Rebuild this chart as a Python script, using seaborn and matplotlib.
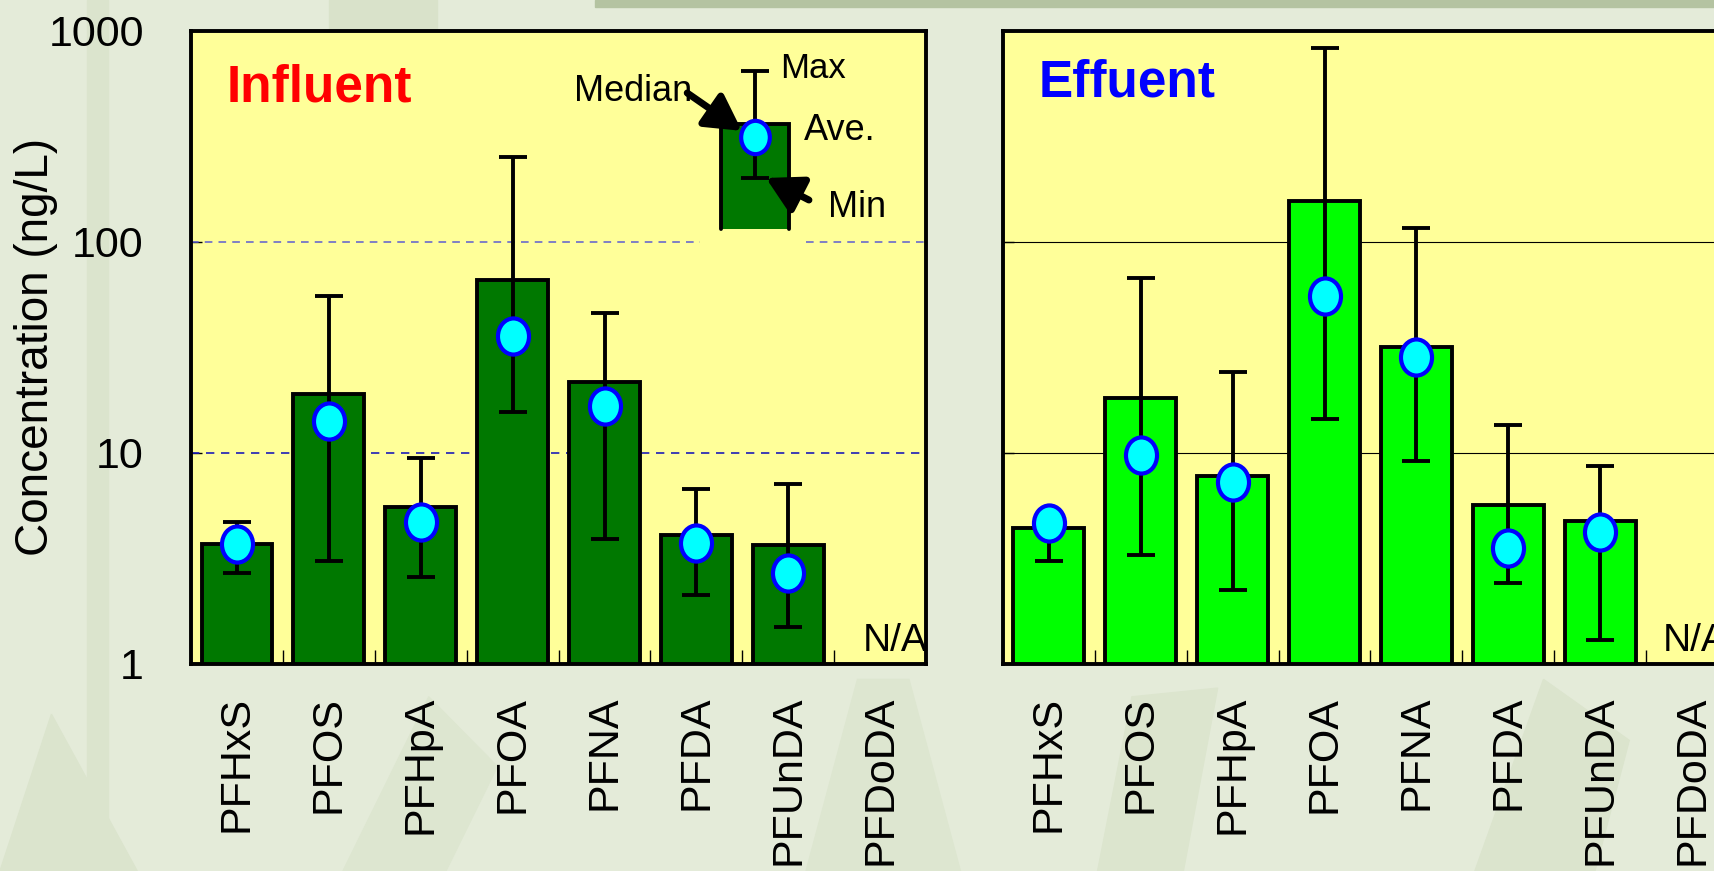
import numpy as np
import pandas as pd
import matplotlib
matplotlib.use("Agg")
import matplotlib.pyplot as plt
from matplotlib.path import Path
from matplotlib.transforms import Affine2D, blended_transform_factory
from matplotlib.patches import Rectangle, Polygon
from matplotlib.ticker import FixedLocator, FixedFormatter, NullLocator
import seaborn as sns

# ---- data (ng/L) ----
compounds = ["PFHxS", "PFOS", "PFHpA", "PFOA", "PFNA", "PFDA", "PFUnDA", "PFDoDA"]

influent_ave = [3.72, 19.0, 5.57, 65.9, 21.7, 4.09, 3.67, np.nan]
influent_median = [3.70, 14.1, 4.72, 35.8, 16.7, 3.76, 2.69, np.nan]
influent_max = [4.72, 55.7, 9.42, 253.0, 46.0, 6.75, 7.16, np.nan]
influent_min = [2.69, 3.07, 2.57, 15.7, 3.90, 2.12, 1.50, np.nan]

effluent_ave = [4.39, 18.2, 7.78, 157.0, 31.8, 5.64, 4.77, np.nan]
effluent_median = [4.66, 9.77, 7.25, 55.7, 28.6, 3.54, 4.24, np.nan]
effluent_max = [5.0, 67.5, 24.2, 826.0, 117.0, 13.5, 8.67, np.nan]
effluent_min = [3.07, 3.30, 2.25, 14.5, 9.2, 2.42, 1.30, np.nan]

# explanatory key drawn inside the influent panel
key_ave, key_median, key_max, key_min, key_base = 363.0, 314.0, 643.0, 200.0, 115.0

y_ticks = [1, 10, 100, 1000]
y_tick_labels = ["1", "10", "100", "1000"]

# ---- style ----
sns.set_theme(style="ticks")
REGULAR = ["Liberation Sans", "Arial", "DejaVu Sans"]
plt.rcParams["font.family"] = REGULAR

PANEL_BG = "#ffff99"
FIG_BG = "#e4ebd9"
DARK_GREEN = "#007800"
BRIGHT_GREEN = "#00ff00"
MED_FACE = "#00ffff"
MED_EDGE = "#0000ff"
LW = 2.8

ellipse = Path.unit_circle().transformed(Affine2D().scale(0.86, 1.0))

fig = plt.figure(figsize=(17.15, 8.71), dpi=100, facecolor=FIG_BG)

# soft bamboo-like backdrop
bg = [
    Rectangle((0.051, 0.0), 0.012, 1.0, color="#dbe4cd"),
    Rectangle((0.192, 0.95), 0.063, 0.05, color="#d9e2ca"),
    Rectangle((0.347, 0.992), 0.653, 0.008, color="#b4c3a1"),
    Polygon([(0.0, 0.0), (0.03, 0.18), (0.08, 0.0)], color="#dbe4cd"),
    Polygon([(0.20, 0.0), (0.25, 0.20), (0.29, 0.12), (0.26, 0.0)], color="#dde6d0"),
    Polygon([(0.47, 0.0), (0.50, 0.22), (0.53, 0.22), (0.56, 0.0)], color="#dde6d0"),
    Polygon([(0.64, 0.0), (0.66, 0.20), (0.71, 0.21), (0.69, 0.0)], color="#dce5ce"),
    Polygon([(0.86, 0.0), (0.90, 0.22), (0.95, 0.15), (0.93, 0.0)], color="#dbe4cd"),
]
for p in bg:
    p.set_transform(fig.transFigure)
    p.set_zorder(-5)
    fig.patches.append(p)

ax_in = fig.add_axes([0.1114, 0.2377, 0.4286, 0.7268])
ax_out = fig.add_axes([0.5848, 0.2377, 0.4286, 0.7268])


def draw_panel(ax, ave, med, vmax, vmin, color):
    df = pd.DataFrame({"compound": compounds, "ave": ave})
    sns.barplot(data=df, x="compound", y="ave", order=compounds, color=color,
                saturation=1, width=0.77, edgecolor="black", linewidth=LW,
                errorbar=None, ax=ax, zorder=3)
    x = np.arange(len(compounds))
    ave = np.asarray(ave)
    err = [ave - np.asarray(vmin), np.asarray(vmax) - ave]
    ax.errorbar(x, ave, yerr=err, fmt="none", ecolor="black", elinewidth=LW,
                capsize=10, capthick=LW, zorder=4)
    ax.plot(x, med, linestyle="none", marker=ellipse, markersize=26,
            markerfacecolor=MED_FACE, markeredgecolor=MED_EDGE,
            markeredgewidth=3, zorder=5)

    ax.set_facecolor(PANEL_BG)
    ax.set_yscale("log")
    ax.set_ylim(1, 1000)
    ax.set_xlim(-0.5, len(compounds) - 0.5)
    ax.yaxis.set_major_locator(FixedLocator(y_ticks))
    ax.yaxis.set_major_formatter(FixedFormatter(y_tick_labels))
    ax.yaxis.set_minor_locator(NullLocator())
    ax.set_xticks(x)
    ax.set_xticklabels(compounds, rotation=90, fontsize=31, family=REGULAR)
    ax.set_xticks(np.arange(0.5, len(compounds) - 1, 1.0), minor=True)
    ax.tick_params(axis="x", which="major", length=0, pad=23, colors="black")
    ax.tick_params(axis="x", which="minor", direction="in", length=10, width=1,
                   bottom=True, color="black")
    ax.tick_params(axis="y", which="major", direction="in", length=8, width=1,
                   pad=34, labelsize=31, colors="black")
    ax.set_xlabel("")
    ax.set_ylabel("")
    for s in ax.spines.values():
        s.set_visible(True)
        s.set_color("black")
        s.set_linewidth(LW)
        s.set_zorder(6)


draw_panel(ax_in, influent_ave, influent_median, influent_max, influent_min, DARK_GREEN)
draw_panel(ax_out, effluent_ave, effluent_median, effluent_max, effluent_min, BRIGHT_GREEN)
ax_out.tick_params(axis="y", labelleft=False)

# reference lines
ax_in.axhline(10, color="#1c1cb8", lw=1.2, ls=(0, (5, 4)), zorder=1)
ax_in.hlines(100, -0.5, 5.04, color="#5c5cd0", lw=1.1, ls=(0, (5, 4)), zorder=1)
ax_in.hlines(100, 6.19, 7.5, color="#5c5cd0", lw=1.1, ls=(0, (5, 4)), zorder=1)
for v in (10, 100):
    ax_out.axhline(v, color="black", lw=0.8, zorder=1)

# panel titles
ax_in.text(0.048, 0.888, "Influent", transform=ax_in.transAxes, color="#ff0000",
           fontsize=37, fontweight="bold", va="baseline", ha="left")
ax_out.text(0.049, 0.897, "Effuent", transform=ax_out.transAxes, color="#0000ff",
            fontsize=37, fontweight="bold", va="baseline", ha="left")

# not-available markers
for ax, xpos in ((ax_in, 6.81), (ax_out, 6.68)):
    tr = blended_transform_factory(ax.transData, ax.transAxes)
    ax.text(xpos, 0.008, "N/A", transform=tr, fontsize=28,
            ha="left", va="bottom", color="black", zorder=6)

# key: bar = average, ellipse = median, whiskers = min/max
kx, kw = 5.64, 0.74
ax_in.bar(kx, key_ave - key_base, bottom=key_base, width=kw, color=DARK_GREEN,
          linewidth=0, zorder=3)
ax_in.plot([kx - kw / 2, kx - kw / 2, kx + kw / 2, kx + kw / 2],
           [key_base, key_ave, key_ave, key_base], color="black", lw=LW,
           solid_joinstyle="miter", zorder=3.5)
ax_in.errorbar([kx], [key_ave], yerr=[[key_ave - key_min], [key_max - key_ave]],
               fmt="none", ecolor="black", elinewidth=LW, capsize=10, capthick=LW,
               zorder=4)
ax_in.plot([kx], [key_median], linestyle="none", marker=ellipse, markersize=24,
           markerfacecolor=MED_FACE, markeredgecolor=MED_EDGE, markeredgewidth=3,
           zorder=5)
ax_in.text(5.91, 660, "Max", fontsize=25, ha="left", va="center", color="black")
ax_in.text(6.17, 336, "Ave.", fontsize=26, ha="left", va="center", color="black")
ax_in.text(6.43, 145, "Min", fontsize=26, ha="left", va="center", color="black")
ax_in.text(4.96, 514, "Median", fontsize=26, ha="right", va="center", color="black")
arrow = dict(arrowstyle="-|>,head_length=0.9,head_width=0.5", lw=5,
             color="black", shrinkA=0, shrinkB=0, mutation_scale=24)
ax_in.annotate("", xy=(5.495, 336), xytext=(4.90, 508), arrowprops=arrow, zorder=6)
ax_in.annotate("", xy=(5.757, 201), xytext=(6.225, 158), arrowprops=arrow, zorder=6)

fig.text(36 / 1715, 1 - 347 / 871, "Concentration (ng/L)", rotation=90,
         fontsize=33, ha="center", va="center", color="black", family=REGULAR)

fig.savefig("out.png", dpi=100, facecolor=FIG_BG)
